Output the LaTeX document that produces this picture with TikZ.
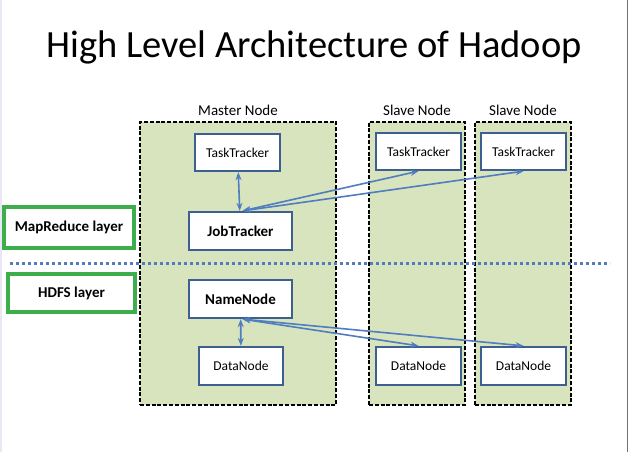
\documentclass[tikz,border=0pt]{standalone}
\usepackage{fontspec}
\setmainfont{Carlito}
\usepackage{tikz}
\usetikzlibrary{arrows.meta,positioning}

\definecolor{boxgreen}{HTML}{D7E4BD}
\definecolor{nodeblue}{HTML}{3E5F91}
\definecolor{arrowblue}{HTML}{4F7DC0}
\definecolor{layergreen}{HTML}{3DAE4B}

\tikzset{
  frame/.style={draw=black, fill=boxgreen, line width=2.2pt, dash pattern=on 4pt off 1.8pt},
  unit/.style={draw=nodeblue, fill=white, line width=2.3pt, minimum height=37pt, inner sep=0pt, font=\fontsize{13.5}{15}\selectfont},
  layer/.style={draw=layergreen, fill=white, line width=3.5pt, inner sep=0pt, font=\fontsize{15}{17}\selectfont\bfseries},
  link/.style={arrowblue, line width=1.6pt, {Stealth[length=8pt,width=6pt]}-{Stealth[length=8pt,width=6pt]}},
  caption/.style={font=\fontsize{15}{17}\selectfont, above=2pt}
}

\begin{document}
\begin{tikzpicture}[x=1pt,y=-1pt]

\useasboundingbox (0,0) rectangle (628,452);
\fill[white] (0,0) rectangle (628,452);
\draw[line width=1.5pt, cyan!8!blue!8] (0.75,0) -- (0.75,452);
\draw[line width=1pt, black!55] (627,0) -- (627,452);

% Title
\node (title) at (314,47) {\fontsize{38.5}{44}\selectfont High Level Architecture of Hadoop};

% Machine frames
\node[frame, minimum width=196pt, minimum height=283pt] (master) at (238,263.5) {};
\node[frame, minimum width=96pt, minimum height=283pt] (slaveA) at (417,263.5) {};
\node[frame, minimum width=96pt, minimum height=283pt] (slaveB) at (523,263.5) {};
\node[caption] at (master.north) {Master Node};
\node[caption] at (slaveA.north) {Slave Node};
\node[caption] at (slaveB.north) {Slave Node};

% Layer separator
\draw[arrowblue, line width=3pt, dash pattern=on 3pt off 3pt] (10,263) -- (610,263);

% Layer labels
\node[layer, minimum width=130pt, minimum height=41pt] (mrlayer) at (69,227.5) {MapReduce layer};
\node[layer, minimum width=127pt, minimum height=38pt] (hdfslayer) at (71.5,293) {HDFS layer};

% Master daemons
\node[unit, minimum width=85pt] (mtt) at (237.5,152.5) {TaskTracker};
\node[unit, minimum width=103pt, minimum height=38pt, font=\fontsize{15}{17}\selectfont\bfseries] (jt) at (240.5,231) {JobTracker};
\node[unit, minimum width=103pt, minimum height=38pt, font=\fontsize{15}{17}\selectfont\bfseries] (nn) at (240.5,299) {NameNode};
\node[unit, minimum width=84pt, minimum height=38pt] (mdn) at (241,366) {DataNode};

% Slave daemons
\foreach \s/\x in {A/418.5, B/523.5} {
  \node[unit, minimum width=85pt] (stt\s) at (\x,151.5) {TaskTracker};
  \node[unit, minimum width=85pt, minimum height=38pt] (sdn\s) at (\x,366) {DataNode};
}

% Connections
\draw[link] (mtt) -- (jt);
\draw[link] (nn) -- (mdn);
\draw[link] ([xshift=2pt]jt.north) -- (sttA.south);
\draw[link] ([xshift=2pt]jt.north) -- (sttB.south);
\draw[link] ([xshift=2pt]nn.south) -- (sdnA.north);
\draw[link] ([xshift=2pt]nn.south) -- (sdnB.north);

\end{tikzpicture}
\end{document}
